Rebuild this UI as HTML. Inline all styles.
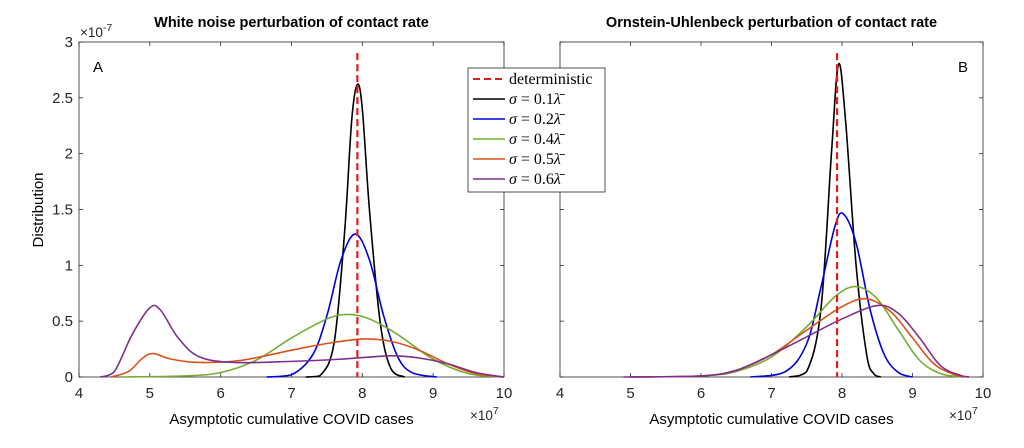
<!DOCTYPE html>
<html><head><meta charset="utf-8"><style>
body{margin:0;background:#fff;width:1024px;height:443px;overflow:hidden}
text{font-family:"Liberation Sans",sans-serif;fill:#262626}
</style></head><body>
<svg id="chart" width="1024" height="443" viewBox="0 0 1024 443">
<g id="root"></g>
</svg>
<script>
const xTicks=[4,5,6,7,8,9,10];
const yTicks=[0,0.5,1,1.5,2,2.5,3];
const yTickLabels=["0","0.5","1","1.5","2","2.5","3"];
const deterministicX=7.93;
const seriesNames=["0.1","0.2","0.4","0.5","0.6"];
const seriesColors=["#000000","#0000d8","#77ac30","#d95319","#7e2f8e"];
// Panel A (white noise): [x (1e7), y (1e-7)]
const aBlack=[[7.2,0],[7.4,0.01],[7.6,0.3],[7.75,1.3],[7.85,2.3],[7.93,2.62],[8.0,2.4],[8.1,1.5],[8.25,0.5],[8.4,0.08],[8.6,0]];
const aBlue=[[6.65,0],[7.0,0.02],[7.3,0.2],[7.5,0.55],[7.7,1.05],[7.9,1.28],[8.1,1.05],[8.3,0.55],[8.5,0.18],[8.7,0.04],[9.05,0]];
const aGreen=[[4.6,0],[5.5,0.01],[6.0,0.04],[6.5,0.15],[7.0,0.35],[7.5,0.52],[7.8,0.56],[8.1,0.52],[8.5,0.38],[9.0,0.16],[9.5,0.03],[10,0]];
const aOrange=[[4.45,0],[4.7,0.05],[4.9,0.17],[5.05,0.21],[5.3,0.16],[5.7,0.13],[6.3,0.15],[7.0,0.24],[7.5,0.3],[8.0,0.34],[8.4,0.32],[8.8,0.24],[9.2,0.12],[9.6,0.03],[10,0]];
const aPurple=[[4.3,0],[4.5,0.05],[4.75,0.38],[5.0,0.62],[5.15,0.6],[5.4,0.35],[5.7,0.18],[6.2,0.13],[7.0,0.14],[7.7,0.16],[8.4,0.19],[8.8,0.17],[9.2,0.12],[9.6,0.04],[10,0]];
// Panel B (Ornstein-Uhlenbeck)
const bBlack=[[7.25,0],[7.5,0.05],[7.7,0.6],[7.85,2.0],[7.95,2.8],[8.05,2.3],[8.2,1.0],[8.35,0.2],[8.45,0.03],[8.55,0]];
const bBlue=[[6.7,0],[7.2,0.05],[7.5,0.3],[7.7,0.8],[7.9,1.35],[8.02,1.46],[8.2,1.2],[8.4,0.6],[8.6,0.2],[8.8,0.04],[9.0,0]];
const bGreen=[[5.0,0],[6.0,0.01],[6.5,0.05],[7.0,0.18],[7.5,0.45],[7.9,0.72],[8.2,0.81],[8.5,0.7],[8.8,0.42],[9.1,0.15],[9.4,0.03],[9.7,0]];
const bOrange=[[5.0,0],[6.0,0.01],[6.5,0.06],[7.0,0.2],[7.5,0.42],[8.0,0.63],[8.35,0.7],[8.7,0.58],[9.0,0.35],[9.3,0.12],[9.6,0.02],[9.8,0]];
const bPurple=[[4.9,0],[6.0,0.01],[6.5,0.06],[7.0,0.2],[7.5,0.36],[8.0,0.52],[8.5,0.64],[8.8,0.57],[9.1,0.35],[9.4,0.1],[9.7,0.01],[9.8,0]];

const NS="http://www.w3.org/2000/svg";
const root=document.getElementById('root');
function mk(tag,attrs,parent,txt){const e=document.createElementNS(NS,tag);for(const k in attrs)e.setAttribute(k,attrs[k]);if(txt!==undefined)e.textContent=txt;(parent||root).appendChild(e);return e;}
function smooth(pts){let d="M"+pts[0][0]+","+pts[0][1];for(let i=0;i<pts.length-1;i++){const p0=pts[Math.max(0,i-1)],p1=pts[i],p2=pts[i+1],p3=pts[Math.min(pts.length-1,i+2)];const c1=[p1[0]+(p2[0]-p0[0])/6,p1[1]+(p2[1]-p0[1])/6],c2=[p2[0]-(p3[0]-p1[0])/6,p2[1]-(p3[1]-p1[1])/6];d+=" C"+c1[0].toFixed(2)+","+Math.min(c1[1],377).toFixed(2)+" "+c2[0].toFixed(2)+","+Math.min(c2[1],377).toFixed(2)+" "+p2[0].toFixed(2)+","+p2[1].toFixed(2);}return d;}

function panel(name,L,R,T,B,title,letter,letterX,showY,series){
  const g=mk('g',{});
  
  
  const sx=v=>L+(v-4)/6*(R-L), sy=v=>B-v/3*(B-T);
  const frame=mk('rect',{x:L,y:T,width:R-L,height:B-T,fill:'#fff',stroke:'#262626','stroke-width':0.8},g);
  
  
  xTicks.forEach(t=>{const x=sx(t);
    mk('line',{x1:x,x2:x,y1:B,y2:B-4,stroke:'#262626','stroke-width':0.8},g);
    mk('line',{x1:x,x2:x,y1:T,y2:T+4,stroke:'#262626','stroke-width':0.8},g);
    const lb=mk('text',{x:x,y:B+21,'text-anchor':'middle','font-size':15},g,String(t));
    
    });
  yTicks.forEach((t,i)=>{const y=sy(t);
    mk('line',{x1:L,x2:L+4,y1:y,y2:y,stroke:'#262626','stroke-width':0.8},g);
    mk('line',{x1:R,x2:R-4,y1:y,y2:y,stroke:'#262626','stroke-width':0.8},g);
    if(showY){const lb=mk('text',{x:L-6,y:y+5,'text-anchor':'end','font-size':15},g,yTickLabels[i]);
      
      }});
  const ti=mk('text',{x:(L+R)/2,y:27,'text-anchor':'middle','font-size':14.5,'font-weight':'bold',style:'fill:#000'},g,title);
  
  
  const xl=mk('text',{x:(L+R)/2,y:424,'text-anchor':'middle','font-size':15,style:'fill:#000'},g,'Asymptotic cumulative COVID cases');
  
  
  const xe=mk('text',{x:R-34,y:420,'font-size':13.5},g);
  
  
  mk('tspan',{},xe,'×10');mk('tspan',{dy:-6,'font-size':10.5},xe,'7');
  const le=mk('text',{x:letterX,y:72,'font-size':15,style:'fill:#000'},g,letter);
  
  
  series.forEach((s,i)=>{const p=mk('path',{d:smooth(s.map(q=>[sx(q[0]),sy(q[1])])),fill:'none',stroke:seriesColors[i],'stroke-width':1.6},g);
    
    });
  const dx=sx(deterministicX);
  const dl=mk('line',{x1:dx,x2:dx,y1:sy(2.9),y2:B,stroke:'#e41a1c','stroke-width':2.2,'stroke-dasharray':'7,4'},g);
  
  
  return g;
}
panel('panel-a',79,504,42,377,'White noise perturbation of contact rate','A',93,true,[aBlack,aBlue,aGreen,aOrange,aPurple]);
panel('panel-b',560,983,42,377,'Ornstein-Uhlenbeck perturbation of contact rate','B',958,false,[bBlack,bBlue,bGreen,bOrange,bPurple]);

const yt=mk('text',{x:43,y:210,'text-anchor':'middle','font-size':15,transform:'rotate(-90 43 210)',style:'fill:#000'},root,'Distribution');


const ye=mk('text',{x:80,y:37,'font-size':13.5});


mk('tspan',{},ye,'×10');mk('tspan',{dy:-6,'font-size':10.5},ye,'-7');

const lg=mk('g',{});


mk('rect',{x:468,y:68,width:137,height:124,fill:'#fff',stroke:'#262626','stroke-width':0.8},lg);
const cols=['#e41a1c'].concat(seriesColors);
for(let i=0;i<6;i++){const y=79+i*20;
  const ln=mk('line',{x1:473,x2:505,y1:y,y2:y,stroke:cols[i],'stroke-width':i===0?2:1.6,'stroke-dasharray':i===0?'7,4':''},lg);
  
  
  const tx=mk('text',{x:509,y:y+5,'font-size':16,style:'font-family:"Liberation Serif",serif;fill:#000'},lg);
  
  
  if(i===0){tx.textContent='deterministic';}
  else{mk('tspan',{'font-style':'italic'},tx,'σ');mk('tspan',{},tx,' = '+seriesNames[i-1]);mk('tspan',{'font-style':'italic'},tx,'λ̄');}
}
</script>
</body></html>
